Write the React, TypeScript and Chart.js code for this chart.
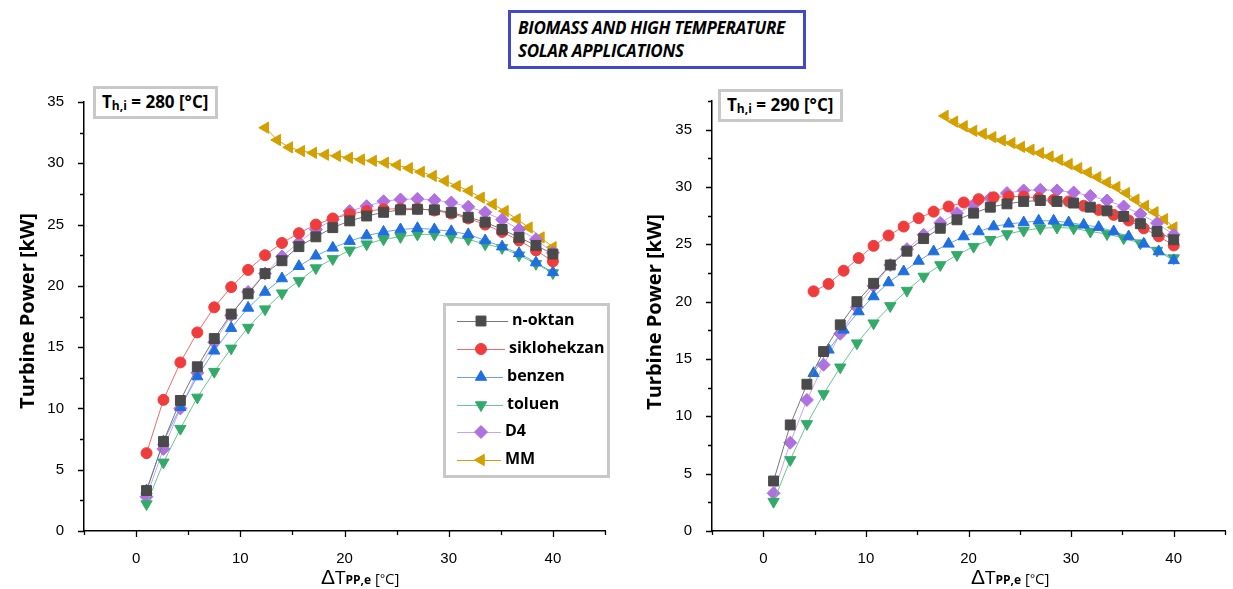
import React, { useEffect, useRef } from 'react';
import { Chart, registerables } from 'chart.js';
import { drawPoint } from 'chart.js/helpers';
Chart.register(...registerables);

// ---------- DATA ----------
const xStd = [1, 2.625, 4.25, 5.875, 7.5, 9.125, 10.75, 12.375, 14, 15.625, 17.25, 18.875, 20.5, 22.125, 23.75, 25.375, 27, 28.625, 30.25, 31.875, 33.5, 35.125, 36.75, 38.375, 40];
const xMM280 = [12.4, 13.55, 14.7, 15.85, 17.0, 18.15, 19.3, 20.45, 21.6, 22.75, 23.9, 25.05, 26.2, 27.35, 28.5, 29.65, 30.8, 31.95, 33.1, 34.25, 35.4, 36.55, 37.7, 38.85, 40];
const xLate290 = [4.9, 6.36, 7.83, 9.29, 10.75, 12.21, 13.68, 15.14, 16.6, 18.06, 19.53, 20.99, 22.45, 23.91, 25.38, 26.84, 28.3, 29.76, 31.23, 32.69, 34.15, 35.61, 37.08, 38.54, 40];
const xMM290 = [17.7, 18.63, 19.56, 20.49, 21.42, 22.35, 23.28, 24.21, 25.14, 26.07, 27.0, 27.93, 28.86, 29.79, 30.72, 31.65, 32.58, 33.51, 34.44, 35.37, 36.3, 37.23, 38.16, 39.09, 40];

// Th,i = 280 °C
const nOktan280 = [3.3, 7.3, 10.65, 13.4, 15.7, 17.7, 19.35, 21.0, 22.05, 23.2, 24.0, 24.75, 25.3, 25.7, 26.0, 26.2, 26.25, 26.2, 26.0, 25.6, 25.2, 24.6, 23.95, 23.3, 22.6];
const siklo280 = [6.35, 10.7, 13.75, 16.2, 18.25, 19.9, 21.3, 22.5, 23.5, 24.3, 25.0, 25.5, 25.85, 26.1, 26.25, 26.3, 26.3, 26.15, 25.9, 25.5, 25.0, 24.4, 23.7, 22.9, 22.0];
const benzen280 = [3.3, 7.3, 10.1, 12.6, 14.7, 16.55, 18.2, 19.5, 20.6, 21.6, 22.45, 23.1, 23.65, 24.1, 24.4, 24.6, 24.7, 24.6, 24.45, 24.2, 23.7, 23.2, 22.65, 21.9, 21.1];
const toluen280 = [2.2, 5.6, 8.35, 10.9, 13.0, 14.9, 16.6, 18.1, 19.4, 20.4, 21.45, 22.2, 22.9, 23.4, 23.8, 24.0, 24.2, 24.2, 24.0, 23.8, 23.4, 23.1, 22.5, 21.8, 21.05];
const d4_280 = [2.8, 6.7, 10.0, 12.9, 15.4, 17.6, 19.5, 21.0, 22.4, 23.55, 24.6, 25.4, 26.1, 26.5, 26.9, 27.05, 27.1, 27.0, 26.8, 26.45, 26.0, 25.4, 24.6, 23.8, 22.7];
const mm280 = [32.9, 31.9, 31.3, 31.0, 30.85, 30.7, 30.6, 30.45, 30.3, 30.2, 30.05, 29.85, 29.6, 29.3, 28.97, 28.56, 28.15, 27.75, 27.2, 26.66, 26.1, 25.44, 24.76, 23.95, 23.15];

// Th,i = 290 °C
const nOktan290 = [4.36, 9.25, 12.8, 15.65, 17.98, 20.0, 21.6, 23.2, 24.4, 25.5, 26.4, 27.14, 27.72, 28.24, 28.53, 28.74, 28.82, 28.74, 28.6, 28.24, 27.92, 27.43, 26.8, 26.12, 25.4];
const siklo290 = [20.9, 21.55, 22.7, 23.8, 24.87, 25.77, 26.55, 27.28, 27.85, 28.3, 28.65, 28.94, 29.1, 29.17, 29.17, 29.03, 28.88, 28.74, 28.36, 28.0, 27.57, 27.08, 26.4, 25.7, 24.9];
const benzen290 = [13.76, 15.8, 17.54, 19.14, 20.45, 21.67, 22.63, 23.55, 24.37, 25.04, 25.68, 26.12, 26.55, 26.79, 26.9, 27.05, 27.05, 26.9, 26.7, 26.5, 26.12, 25.68, 25.04, 24.37, 23.6];
const toluen290 = [2.56, 6.2, 9.34, 11.95, 14.28, 16.38, 18.12, 19.63, 20.97, 22.2, 23.2, 24.08, 24.8, 25.4, 25.9, 26.2, 26.4, 26.47, 26.4, 26.12, 25.9, 25.54, 25.1, 24.46, 23.8];
const d4_290 = [3.29, 7.7, 11.43, 14.5, 17.2, 19.5, 21.38, 23.2, 24.58, 25.83, 26.87, 27.72, 28.45, 29.03, 29.47, 29.7, 29.76, 29.7, 29.52, 29.23, 28.82, 28.3, 27.64, 26.85, 25.83];
const mm290 = [36.2, 35.7, 35.3, 34.9, 34.64, 34.35, 34.06, 33.83, 33.5, 33.25, 32.96, 32.66, 32.37, 32.0, 31.65, 31.27, 30.86, 30.4, 30.0, 29.47, 28.9, 28.36, 27.8, 27.2, 26.47];

const seriesNames = ['n-oktan', 'siklohekzan', 'benzen', 'toluen', 'D4', 'MM'];
const xTickLabels = [0, 10, 20, 30, 40];
const yTickLabels = [0, 5, 10, 15, 20, 25, 30, 35];

// ---------- STYLES ----------
const styles = [
  { marker: '#4a4a4a', line: '#777777', pointStyle: 'rect', radius: 7, rotation: 0 },
  { marker: '#f03c3c', line: '#f06a6a', pointStyle: 'circle', radius: 5.5, rotation: 0 },
  { marker: '#1f6fe0', line: '#6aa3ea', pointStyle: 'triangle', radius: 6.5, rotation: 0 },
  { marker: '#33aa6a', line: '#6cc592', pointStyle: 'triangle', radius: 6.5, rotation: 180 },
  { marker: '#b070e0', line: '#c9a3ef', pointStyle: 'rectRot', radius: 6.5, rotation: 0 },
  { marker: '#d4a000', line: '#d4a000', pointStyle: 'triangle', radius: 6.5, rotation: 270 },
];

const TICK_FONT = '"Liberation Sans", Arial, sans-serif';
const TITLE_FONT = '"Open Sans", "Noto Sans", sans-serif';

function makeDatasets(xs: number[][], ys: number[][]) {
  return ys.map((vals, i) => ({
    label: seriesNames[i],
    data: vals.map((v, j) => ({ x: xs[i][j], y: v })),
    borderColor: styles[i].line,
    backgroundColor: styles[i].marker,
    pointBackgroundColor: styles[i].marker,
    pointBorderColor: styles[i].marker,
    pointBorderWidth: 1,
    pointStyle: styles[i].pointStyle,
    pointRadius: styles[i].radius,
    pointRotation: styles[i].rotation,
    borderWidth: 1,
    showLine: true,
    tension: 0,
    fill: false,
  }));
}

function decoPlugin(opts: { yMax: number; yTitleX: number; yTitleY: number; xTitleX: number; xTitleY: number; legend: boolean }) {
  return {
    id: 'deco',
    afterDraw(chart: any) {
      const ctx = chart.ctx as CanvasRenderingContext2D;
      const { left, bottom } = chart.chartArea;
      const xs = chart.scales.x;
      const ys = chart.scales.y;
      ctx.save();
      ctx.strokeStyle = '#000';
      ctx.lineWidth = 1.3;
      ctx.beginPath();
      for (let v = -5; v <= 45; v += 5) {
        const px = Math.round(xs.getPixelForValue(v)) + 0.5;
        const len = v % 10 === 0 ? 6 : 4;
        ctx.moveTo(px, bottom);
        ctx.lineTo(px, bottom + len);
      }
      for (let v = 0; v <= opts.yMax + 0.001; v += 2.5) {
        const py = Math.round(ys.getPixelForValue(v)) + 0.5;
        const len = v % 5 === 0 ? 6 : 4;
        ctx.moveTo(left, py);
        ctx.lineTo(left - len, py);
      }
      ctx.stroke();

      // y title
      ctx.fillStyle = '#000';
      ctx.save();
      ctx.translate(opts.yTitleX, opts.yTitleY);
      ctx.rotate(-Math.PI / 2);
      ctx.font = `bold 20px ${TITLE_FONT}`;
      ctx.textAlign = 'center';
      ctx.textBaseline = 'middle';
      ctx.fillText('Turbine Power [kW]', 0, 0);
      ctx.restore();

      // x title: ΔT PP,e [°C]
      let x = opts.xTitleX;
      const yb = opts.xTitleY;
      ctx.textAlign = 'left';
      ctx.textBaseline = 'alphabetic';
      const parts = [
        { t: 'Δ', f: `21px ${TICK_FONT}`, dy: 0 },
        { t: 'T', f: `19px ${TITLE_FONT}`, dy: 0 },
        { t: 'PP,e', f: `bold 12px ${TITLE_FONT}`, dy: 0 },
        { t: ' [', f: `15px ${TITLE_FONT}`, dy: 0 },
        { t: '°', f: `12px ${TITLE_FONT}`, dy: -1 },
        { t: 'C]', f: `15px ${TITLE_FONT}`, dy: 0 },
      ];
      for (const p of parts) {
        ctx.font = p.f;
        ctx.fillText(p.t, x, yb + p.dy);
        x += ctx.measureText(p.t).width;
      }

      if (opts.legend) {
        ctx.strokeStyle = '#c8c8c8';
        ctx.lineWidth = 3;
        ctx.fillStyle = '#fff';
        ctx.fillRect(444.5, 304.5, 164, 172);
        ctx.strokeRect(444.5, 304.5, 164, 172);
        const rows = [321, 349, 377, 405, 432, 460];
        const labelX = [512, 509, 507, 507, 505, 505];
        chart.data.datasets.forEach((ds: any, i: number) => {
          const y = rows[i];
          ctx.strokeStyle = ds.borderColor;
          ctx.lineWidth = 1;
          ctx.beginPath();
          ctx.moveTo(457, y + 0.5);
          ctx.lineTo(labelX[i] - 4, y + 0.5);
          ctx.stroke();
          ctx.fillStyle = ds.pointBackgroundColor;
          ctx.strokeStyle = ds.pointBorderColor;
          drawPoint(ctx, { pointStyle: ds.pointStyle, radius: ds.pointRadius, rotation: ds.pointRotation, borderWidth: 1 } as any, 481, y);
          ctx.fillStyle = '#000';
          ctx.font = `bold 16px ${TITLE_FONT}`;
          ctx.textBaseline = 'middle';
          ctx.fillText(ds.label, labelX[i], y - 1);
        });
      }
      ctx.restore();
    },
  };
}

function PanelChart(props: {
  width: number; height: number; xs: number[][]; ys: number[][]; yMax: number;
  padTop: number; padRight: number; yWidth: number; xHeight: number;
  yTitleX: number; yTitleY: number; xTitleX: number; xTitleY: number; legend: boolean;
}) {
  const ref = useRef<HTMLCanvasElement>(null);
  useEffect(() => {
    const chart = new Chart(ref.current as HTMLCanvasElement, {
      type: 'line',
      data: { datasets: makeDatasets(props.xs, props.ys) as any },
      options: {
        responsive: false,
        animation: false,
        devicePixelRatio: 1,
        layout: { padding: { top: props.padTop, right: props.padRight, left: 0, bottom: 0 } },
        plugins: { legend: { display: false }, tooltip: { enabled: false }, title: { display: false } },
        scales: {
          x: {
            type: 'linear',
            min: -5,
            max: 45,
            afterFit: (s: any) => { s.height = props.xHeight; },
            afterBuildTicks: (s: any) => { s.ticks = xTickLabels.map((v) => ({ value: v })); },
            grid: { display: false },
            border: { display: true, color: '#000', width: 1.5 },
            ticks: { color: '#000', font: { family: TICK_FONT, size: 15 }, padding: 11, maxRotation: 0, autoSkip: false },
          },
          y: {
            type: 'linear',
            min: 0,
            max: props.yMax,
            afterFit: (s: any) => { s.width = props.yWidth; },
            afterBuildTicks: (s: any) => { s.ticks = yTickLabels.map((v) => ({ value: v })); },
            grid: { display: false },
            border: { display: true, color: '#000', width: 1.5 },
            ticks: { color: '#000', font: { family: TICK_FONT, size: 15 }, padding: 12, autoSkip: false },
          },
        },
      },
      plugins: [decoPlugin(props) as any],
    });
    return () => chart.destroy();
  }, []);
  return <canvas ref={ref} width={props.width} height={props.height} style={{ display: 'block' }} />;
}

const thBox = (left: number, top: number, temp: string) => (
  <div
    style={{
      position: 'absolute', left, top, width: 125, height: 33, boxSizing: 'border-box',
      border: '3px solid #c8c8c8', background: '#fff', fontFamily: TITLE_FONT, fontWeight: 700,
      fontSize: 17, lineHeight: '26px', paddingLeft: 6, whiteSpace: 'nowrap', color: '#000', zIndex: 2,
    }}
  >
    T<span style={{ fontSize: 12, position: 'relative', top: 2 }}>h,i</span> = {temp} [°C]
  </div>
);

export default function App() {
  return (
    <div style={{ position: 'absolute', left: 0, top: 0, width: 1233, height: 589, background: '#fff', overflow: 'hidden' }}>
      <div style={{ position: 'absolute', left: 0, top: 0 }}>
        <PanelChart
          width={615} height={589}
          xs={[xStd, xStd, xStd, xStd, xStd, xMM280]}
          ys={[nOktan280, siklo280, benzen280, toluen280, d4_280, mm280]}
          yMax={35} padTop={102} padRight={10} yWidth={84} xHeight={58}
          yTitleX={28} yTitleY={311} xTitleX={321} xTitleY={584} legend={true}
        />
      </div>
      <div style={{ position: 'absolute', left: 620, top: 0 }}>
        <PanelChart
          width={613} height={589}
          xs={[xStd, xLate290, xLate290, xStd, xStd, xMM290]}
          ys={[nOktan290, siklo290, benzen290, toluen290, d4_290, mm290]}
          yMax={37.5} padTop={101} padRight={1} yWidth={92} xHeight={58}
          yTitleX={35} yTitleY={312} xTitleX={351} xTitleY={584} legend={false}
        />
      </div>
      {thBox(93, 86, '280')}
      {thBox(718, 89, '290')}
      <div
        style={{
          position: 'absolute', left: 508, top: 10, width: 298, height: 59, boxSizing: 'border-box',
          border: '3px solid #4049c8', background: '#fff', fontFamily: TITLE_FONT, fontWeight: 700,
          fontStyle: 'italic', fontSize: 17, lineHeight: '23px', paddingLeft: 7, paddingTop: 3, color: '#000',
          whiteSpace: 'nowrap', letterSpacing: -0.3,
        }}
      >
        BIOMASS AND HIGH TEMPERATURE<br />SOLAR APPLICATIONS
      </div>
    </div>
  );
}
